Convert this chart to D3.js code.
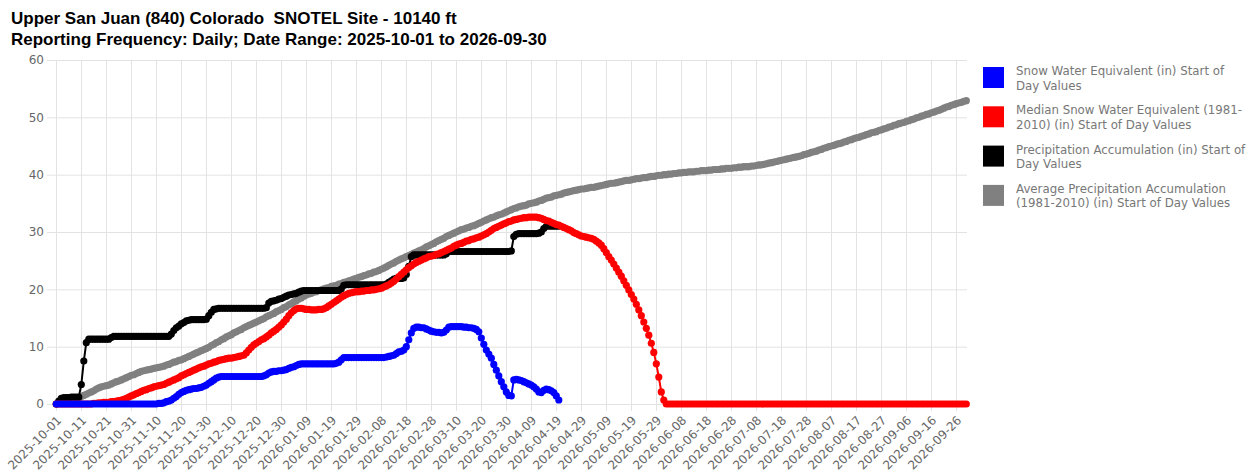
<!DOCTYPE html>
<html>
<head>
<meta charset="utf-8">
<script src="https://cdn.jsdelivr.net/npm/d3@7"></script>
<style>
  body { margin: 0; background: #fff; }
  svg text { font-family: "DejaVu Sans", Verdana, sans-serif; }
</style>
</head>
<body>
<div id="chart"></div>
<script>
// daily start-of-day values, first value = 2025-10-01
var startDate = "2025-10-01";

var swe = [
  0,0,0,0,0,0,0,0,0,0,
  0,0,0,0,0,0,0,0,0,0,
  0,0,0,0,0,0,0,0,0,0,
  0,0,0,0,0,0,0,0,0,0,
  0,0.1,0.1,0.2,0.4,0.5,0.7,1.0,1.3,1.7,
  2.0,2.2,2.4,2.5,2.6,2.7,2.7,2.8,2.9,3.1,
  3.3,3.6,3.9,4.2,4.5,4.7,4.8,4.8,4.8,4.8,
  4.8,4.8,4.8,4.8,4.8,4.8,4.8,4.8,4.8,4.8,
  4.8,4.8,4.8,4.9,5.1,5.4,5.6,5.7,5.7,5.8,
  5.8,5.9,6.0,6.2,6.4,6.5,6.7,6.9,7.0,7.0,
  7.0,7.0,7.0,7.0,7.0,7.0,7.0,7.0,7.0,7.0,
  7.0,7.0,7.1,7.3,7.7,8.1,8.1,8.1,8.1,8.1,
  8.1,8.1,8.1,8.1,8.1,8.1,8.1,8.1,8.1,8.1,
  8.1,8.1,8.2,8.3,8.4,8.5,8.8,9.1,9.2,9.4,
  10.0,11.2,12.4,13.2,13.4,13.4,13.3,13.3,13.1,12.9,
  12.7,12.6,12.5,12.5,12.4,12.5,12.9,13.4,13.5,13.5,
  13.5,13.5,13.5,13.4,13.4,13.3,13.3,13.2,13.0,12.6,
  11.5,10.4,9.4,8.7,8.0,6.9,5.9,4.9,3.9,3.0,
  2.1,1.5,1.4,4.2,4.3,4.2,4.1,3.9,3.7,3.5,
  3.3,3.0,2.6,2.1,2.0,2.4,2.6,2.5,2.3,2.0,
  1.4,0.7
];

var medianSwe = [
  0,0,0,0,0,0,0,0,0,0,
  0,0,0,0,0,0.1,0.1,0.2,0.2,0.3,
  0.3,0.3,0.4,0.4,0.5,0.6,0.7,0.8,1.0,1.2,
  1.4,1.6,1.8,2.0,2.2,2.4,2.5,2.7,2.8,3.0,
  3.1,3.2,3.3,3.4,3.6,3.8,4.0,4.2,4.4,4.6,
  4.9,5.1,5.3,5.5,5.7,5.9,6.1,6.3,6.5,6.6,
  6.8,7.0,7.1,7.3,7.4,7.6,7.7,7.8,7.9,8.0,
  8.0,8.1,8.2,8.3,8.4,8.5,8.9,9.4,9.9,10.3,
  10.6,10.9,11.2,11.4,11.7,12.0,12.4,12.7,13.0,13.4,
  13.8,14.3,14.8,15.4,15.9,16.3,16.6,16.7,16.7,16.6,
  16.5,16.5,16.4,16.4,16.4,16.5,16.5,16.6,16.8,17.1,
  17.4,17.7,18.0,18.3,18.6,18.9,19.1,19.3,19.4,19.5,
  19.6,19.6,19.7,19.7,19.8,19.8,19.9,19.9,20.0,20.1,
  20.2,20.4,20.6,20.8,21.1,21.4,21.8,22.2,22.6,23.0,
  23.4,23.8,24.1,24.4,24.7,24.9,25.1,25.3,25.5,25.7,
  25.8,25.9,26.1,26.2,26.4,26.6,26.8,27.0,27.2,27.5,
  27.7,27.9,28.0,28.2,28.4,28.5,28.7,28.8,29.0,29.1,
  29.3,29.5,29.7,30.0,30.3,30.6,30.8,31.0,31.2,31.4,
  31.6,31.8,31.9,32.1,32.2,32.3,32.4,32.5,32.5,32.6,
  32.6,32.6,32.6,32.5,32.4,32.2,32.0,31.9,31.7,31.5,
  31.3,31.2,31.0,30.8,30.6,30.4,30.2,29.9,29.7,29.5,
  29.3,29.2,29.1,29.0,28.9,28.7,28.4,28.1,27.7,27.1,
  26.4,25.7,25.1,24.4,23.7,23.0,22.3,21.5,20.7,19.9,
  19.1,18.3,17.4,16.4,15.4,14.3,13.2,12.0,10.6,9.0,
  7.0,4.7,2.1,0.7,0,0,0,0,0,0,
  0,0,0,0,0,0,0,0,0,0,
  0,0,0,0,0,0,0,0,0,0,
  0,0,0,0,0,0,0,0,0,0,
  0,0,0,0,0,0,0,0,0,0,
  0,0,0,0,0,0,0,0,0,0,
  0,0,0,0,0,0,0,0,0,0,
  0,0,0,0,0,0,0,0,0,0,
  0,0,0,0,0,0,0,0,0,0,
  0,0,0,0,0,0,0,0,0,0,
  0,0,0,0,0,0,0,0,0,0,
  0,0,0,0,0,0,0,0,0,0,
  0,0,0,0,0
];

var precip = [
  0,0.5,1.0,1.1,1.1,1.1,1.2,1.2,1.2,1.2,
  3.4,7.5,10.7,11.3,11.3,11.3,11.3,11.3,11.3,11.3,
  11.3,11.3,11.6,11.8,11.8,11.8,11.8,11.8,11.8,11.8,
  11.8,11.8,11.8,11.8,11.8,11.8,11.8,11.8,11.8,11.8,
  11.8,11.8,11.8,11.8,11.8,11.8,12.2,12.8,13.3,13.6,
  14.0,14.2,14.5,14.6,14.7,14.7,14.7,14.7,14.7,14.7,
  14.8,15.4,16.0,16.5,16.6,16.7,16.7,16.7,16.7,16.7,
  16.7,16.7,16.7,16.7,16.7,16.7,16.7,16.7,16.7,16.7,
  16.7,16.7,16.7,16.7,16.8,17.6,17.9,18.0,18.1,18.3,
  18.4,18.6,18.8,19.0,19.1,19.2,19.3,19.5,19.7,19.8,
  19.8,19.8,19.8,19.8,19.8,19.8,19.8,19.8,19.8,19.8,
  19.8,19.8,19.8,19.8,20.1,20.7,20.8,20.8,20.8,20.8,
  20.8,20.8,20.8,20.8,20.8,20.8,20.8,20.8,20.8,20.8,
  20.8,20.8,20.9,21.2,21.5,21.8,21.9,21.9,21.9,22.0,
  22.6,24.0,25.7,26.0,26.0,26.0,26.0,26.0,26.0,26.0,
  26.0,26.0,26.0,26.0,26.0,26.0,26.2,26.6,26.6,26.6,
  26.6,26.6,26.6,26.6,26.6,26.6,26.6,26.6,26.6,26.6,
  26.6,26.6,26.6,26.6,26.6,26.6,26.6,26.6,26.6,26.6,
  26.6,26.6,26.7,29.2,29.6,29.7,29.7,29.7,29.7,29.7,
  29.7,29.7,29.7,29.8,30.0,30.6,31.0,31.0,31.0,31.0,
  31.0,31.0
];

var avgPrecip = [
  0,0.1,0.3,0.4,0.5,0.6,0.8,0.9,1.0,1.1,
  1.3,1.5,1.7,1.9,2.1,2.3,2.6,2.8,3.0,3.1,
  3.2,3.3,3.5,3.7,3.9,4.0,4.2,4.4,4.6,4.8,
  5.0,5.1,5.3,5.5,5.7,5.8,5.9,6.0,6.1,6.2,
  6.3,6.4,6.5,6.6,6.8,6.9,7.1,7.3,7.4,7.6,
  7.7,7.9,8.1,8.3,8.5,8.7,8.9,9.1,9.3,9.5,
  9.7,9.9,10.2,10.4,10.7,10.9,11.2,11.4,11.7,11.9,
  12.1,12.4,12.6,12.8,13.0,13.3,13.5,13.7,13.9,14.1,
  14.3,14.5,14.7,14.9,15.2,15.4,15.6,15.8,16.1,16.3,
  16.5,16.8,17.0,17.3,17.5,17.8,18.0,18.3,18.5,18.8,
  19.0,19.2,19.3,19.5,19.6,19.8,19.9,20.1,20.2,20.3,
  20.5,20.6,20.7,20.9,21.0,21.2,21.3,21.5,21.6,21.8,
  21.9,22.1,22.2,22.4,22.5,22.7,22.8,23.0,23.1,23.3,
  23.5,23.7,23.9,24.2,24.4,24.6,24.9,25.1,25.3,25.5,
  25.7,25.9,26.1,26.3,26.5,26.7,26.9,27.1,27.4,27.6,
  27.8,28.0,28.3,28.5,28.7,28.9,29.2,29.4,29.6,29.8,
  30.0,30.2,30.4,30.5,30.7,30.8,31.0,31.1,31.3,31.5,
  31.7,31.9,32.1,32.3,32.5,32.6,32.8,33.0,33.1,33.3,
  33.5,33.7,33.9,34.1,34.2,34.4,34.5,34.6,34.7,34.9,
  35.0,35.1,35.2,35.4,35.5,35.7,35.9,36.0,36.1,36.3,
  36.4,36.5,36.6,36.8,36.9,37.0,37.1,37.2,37.3,37.4,
  37.5,37.5,37.6,37.7,37.8,37.8,37.9,38.0,38.1,38.2,
  38.3,38.4,38.5,38.5,38.6,38.7,38.8,38.9,39.0,39.0,
  39.1,39.2,39.3,39.3,39.4,39.5,39.5,39.6,39.7,39.7,
  39.8,39.9,39.9,40.0,40.0,40.1,40.1,40.2,40.2,40.3,
  40.3,40.4,40.4,40.5,40.5,40.5,40.6,40.6,40.7,40.7,
  40.7,40.8,40.8,40.9,40.9,40.9,41.0,41.0,41.1,41.1,
  41.1,41.2,41.2,41.3,41.3,41.4,41.4,41.4,41.5,41.5,
  41.6,41.7,41.7,41.8,41.9,42.0,42.1,42.2,42.3,42.4,
  42.5,42.6,42.7,42.8,42.9,43.0,43.1,43.2,43.3,43.5,
  43.6,43.7,43.9,44.0,44.1,44.3,44.4,44.6,44.7,44.9,
  45.0,45.1,45.3,45.4,45.5,45.7,45.8,46.0,46.1,46.3,
  46.4,46.5,46.7,46.8,47.0,47.1,47.3,47.4,47.5,47.7,
  47.8,48.0,48.1,48.3,48.4,48.6,48.7,48.9,49.0,49.1,
  49.3,49.4,49.6,49.7,49.9,50.0,50.2,50.3,50.5,50.6,
  50.8,50.9,51.1,51.2,51.4,51.6,51.8,51.9,52.1,52.2,
  52.4,52.5,52.6,52.8,52.9
];

var yTicks = [0, 10, 20, 30, 40, 50, 60];
var tickStepDays = 10;

var titleLines = [
  "Upper San Juan (840) Colorado  SNOTEL Site - 10140 ft",
  "Reporting Frequency: Daily; Date Range: 2025-10-01 to 2026-09-30"
];

var legendLabels = [
  ["Snow Water Equivalent (in) Start of", "Day Values"],
  ["Median Snow Water Equivalent (1981-", "2010) (in) Start of Day Values"],
  ["Precipitation Accumulation (in) Start of", "Day Values"],
  ["Average Precipitation Accumulation", "(1981-2010) (in) Start of Day Values"]
];
var seriesColors = ["#0000ff", "#ff0000", "#000000", "#808080"];
var seriesData = [swe, medianSwe, precip, avgPrecip];

var width = 1253, height = 476;
var parse = d3.utcParse("%Y-%m-%d"),
    fmt = d3.utcFormat("%Y-%m-%d");
var t0 = parse(startDate),
    t1 = d3.utcDay.offset(t0, 364);

var svg = d3.select("#chart").append("svg")
    .attr("width", width)
    .attr("height", height);

var x = d3.scaleUtc().domain([t0, t1]).range([56.3, 966.3]);
var y = d3.scaleLinear().domain([0, 60]).range([404, 60]);

// title
svg.selectAll(".title")
    .data(titleLines)
    .enter().append("text")
    .attr("x", 11)
    .attr("y", function (d, i) { return 24 + i * 20.5; })
    .style("font-family", "'Liberation Sans', Arial, sans-serif")
    .style("font-weight", "bold")
    .style("font-size", "17px")
    .style("white-space", "pre")
    .attr("fill", "#000")
    .text(function (d) { return d; });

// grid
var tickDates = d3.range(0, 365, tickStepDays).map(function (k) { return d3.utcDay.offset(t0, k); });

svg.append("g").selectAll("line")
    .data(yTicks)
    .enter().append("line")
    .attr("x1", 47).attr("x2", 967)
    .attr("y1", function (d) { return y(d) + 0.5; })
    .attr("y2", function (d) { return y(d) + 0.5; })
    .attr("stroke", "#e3e3e3");

svg.append("g").selectAll("line")
    .data(tickDates)
    .enter().append("line")
    .attr("x1", function (d) { return Math.round(x(d)) + 0.5; })
    .attr("x2", function (d) { return Math.round(x(d)) + 0.5; })
    .attr("y1", 60).attr("y2", 411)
    .attr("stroke", "#e3e3e3");

// y labels
svg.append("g").selectAll("text")
    .data(yTicks)
    .enter().append("text")
    .attr("x", 44)
    .attr("y", function (d) { return y(d); })
    .attr("dy", "0.35em")
    .attr("text-anchor", "end")
    .attr("fill", "#666")
    .style("font-size", "12px")
    .text(function (d) { return d; });

// x labels
svg.append("g").selectAll("text")
    .data(tickDates)
    .enter().append("text")
    .attr("transform", function (d) { return "translate(" + (x(d) + 3) + ",418) rotate(-45)"; })
    .attr("dy", "0.35em")
    .attr("text-anchor", "end")
    .attr("fill", "#666")
    .style("font-size", "12px")
    .text(function (d) { return fmt(d); });

// series, drawn last-to-first so snow water equivalent ends up on top
var line = d3.line()
    .x(function (d, i) { return x(d3.utcDay.offset(t0, i)); })
    .y(function (d) { return y(d); });

for (var s = seriesData.length - 1; s >= 0; s--) {
    var g = svg.append("g");
    g.append("path")
        .datum(seriesData[s])
        .attr("d", line)
        .attr("fill", "none")
        .attr("stroke", seriesColors[s])
        .attr("stroke-width", 2);
    g.selectAll("circle")
        .data(seriesData[s])
        .enter().append("circle")
        .attr("cx", function (d, i) { return x(d3.utcDay.offset(t0, i)); })
        .attr("cy", function (d) { return y(d); })
        .attr("r", 3.6)
        .attr("fill", seriesColors[s]);
}

// legend
var legend = svg.append("g").selectAll("g")
    .data(legendLabels)
    .enter().append("g")
    .attr("transform", function (d, i) { return "translate(983," + (67 + i * 39.3) + ")"; });

legend.append("rect")
    .attr("width", 21).attr("height", 21)
    .attr("fill", function (d, i) { return seriesColors[i]; });

legend.each(function (lines) {
    d3.select(this).selectAll("text")
        .data(lines)
        .enter().append("text")
        .attr("x", 33)
        .attr("y", function (d, j) { return 8 + j * 14.5; })
        .attr("fill", "#777")
        .style("font-size", "11.8px")
        .text(function (d) { return d; });
});
</script>
</body>
</html>
